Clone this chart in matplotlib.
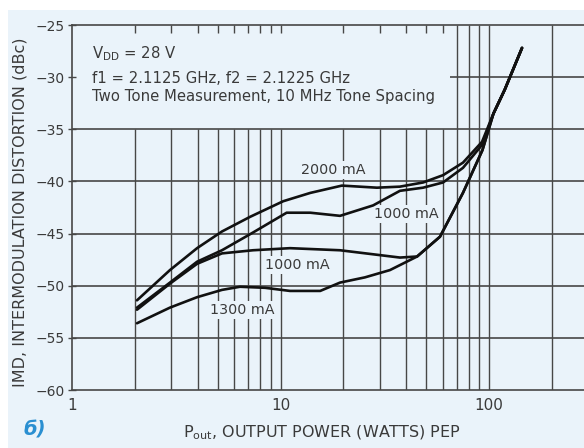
import matplotlib
matplotlib.use('Agg')
import matplotlib.pyplot as plt
from matplotlib.patches import Rectangle

# ---- data ----
curve_labels = ['2000 mA', '1000 mA', '1000 mA', '1300 mA']

pout_2000 = [2.05, 2.95, 3.98, 5.24, 7.14, 10.3, 13.9, 19.7, 29.0, 37.4, 48.3, 60.2, 75.0, 92.6, 105, 119, 144]
imd_2000 = [-51.4, -48.5, -46.4, -44.8, -43.4, -41.9, -41.1, -40.4, -40.6, -40.5, -40.1, -39.4, -38.2, -36.2, -33.5, -31.2, -27.2]

pout_1000a = [2.05, 2.95, 3.98, 5.24, 7.38, 10.7, 13.9, 19.3, 27.8, 37.4, 48.3, 60.2, 75.0, 92.6, 105, 119, 144]
imd_1000a = [-52.1, -49.7, -47.7, -46.6, -44.9, -43.0, -43.0, -43.3, -42.3, -40.9, -40.6, -40.1, -38.7, -36.5, -33.5, -31.2, -27.2]

pout_1000b = [2.05, 2.95, 3.98, 5.24, 7.38, 11.1, 19.3, 37.4, 45.2, 58.2, 75.0, 93.0, 105, 119, 144]
imd_1000b = [-52.3, -49.8, -47.9, -46.9, -46.6, -46.4, -46.6, -47.3, -47.2, -45.3, -41.1, -37.0, -33.5, -31.2, -27.2]

pout_1300 = [2.05, 2.95, 3.98, 5.24, 6.39, 8.43, 11.1, 15.5, 19.3, 25.4, 33.5, 45.2, 58.2, 75.0, 93.0, 105, 119, 144]
imd_1300 = [-53.6, -52.1, -51.1, -50.4, -50.1, -50.2, -50.5, -50.5, -49.7, -49.2, -48.5, -47.2, -45.3, -41.1, -37.0, -33.5, -31.2, -27.2]

label_x = [17.9, 40.0, 12.1, 6.54]
label_y = [-38.9, -43.1, -48.0, -52.3]

yticks = [-25, -30, -35, -40, -45, -50, -55, -60]
xticks = [1, 10, 100]
xtick_labels = ['1', '10', '100']
minor_short = [2, 3, 4, 5, 6, 7, 8, 9, 10, 20, 30, 40, 50, 60]
minor_full = [70, 80, 90, 100, 200]

notes = [r'V$_{\rm DD}$ = 28 V',
         'f1 = 2.1125 GHz, f2 = 2.1225 GHz',
         'Two Tone Measurement, 10 MHz Tone Spacing']
notes_y = [-28.2, -30.6, -32.3]

# ---- styling ----
bg = '#eaf3fa'
gc = '#474747'
tc = '#3a3a3a'
W, H = 584, 448

fig = plt.figure(figsize=(W / 100, H / 100), dpi=100, facecolor='white')
fig.patches.append(Rectangle((8 / W, 0), 1, 1 - 10 / H, transform=fig.transFigure,
                             facecolor=bg, edgecolor='none', zorder=-10))

left, right, top, bottom = 72, 588, 25, 390
ax = fig.add_axes([left / W, 1 - bottom / H, (right - left) / W, (bottom - top) / H])
ax.set_facecolor(bg)
ax.set_xscale('log')
ax.set_xlim(1, 10 ** ((right - left) / 208.5))
ax.set_ylim(-60, -25)

# grid
for x in minor_short:
    ax.vlines(x, -60, -35, color=gc, lw=1.0, zorder=1)
    ax.vlines(x, -25.8, -25, color=gc, lw=1.0, zorder=1)
for x in minor_full:
    ax.vlines(x, -60, -25, color=gc, lw=1.0, zorder=1)
for y in [-35, -40, -45, -50, -55]:
    ax.axhline(y, color=gc, lw=1.2, zorder=1)
ax.hlines(-30, 65, 400, color=gc, lw=1.2, zorder=1)

for s in ['left', 'bottom', 'top']:
    ax.spines[s].set_color(gc)
    ax.spines[s].set_linewidth(1.2)
ax.spines['right'].set_visible(False)

ax.set_yticks(yticks)
ax.set_yticklabels([('\u2212%d' % abs(v)) for v in yticks], fontsize=10, color=tc)
ax.tick_params(axis='y', direction='inout', length=6, width=1, color=gc, pad=2)
ax.set_xticks(xticks)
ax.set_xticklabels(xtick_labels, fontsize=11, color=tc)
ax.xaxis.set_minor_locator(matplotlib.ticker.NullLocator())
ax.tick_params(axis='x', length=0, pad=6)

# curves
for xs, ys in [(pout_2000, imd_2000), (pout_1000a, imd_1000a),
               (pout_1000b, imd_1000b), (pout_1300, imd_1300)]:
    ax.plot(xs, ys, color='#111111', lw=1.9, solid_joinstyle='round',
            solid_capstyle='round', zorder=3)

for lab, lx, ly in zip(curve_labels, label_x, label_y):
    ax.text(lx, ly, lab, fontsize=10.3, color=tc, ha='center', va='center', zorder=2,
            bbox=dict(boxstyle='square,pad=0.15', fc=bg, ec='none'))

for t, ny in zip(notes, notes_y):
    ax.text(20 / (right - left), ny, t, transform=ax.get_yaxis_transform(),
            fontsize=10.7, color=tc, ha='left', va='baseline', zorder=2)

fig.text(20 / W, 1 - 212 / H, 'IMD, INTERMODULATION DISTORTION (dBc)', rotation=90,
         ha='center', va='center', fontsize=11.5, color=tc)
fig.text(322 / W, 1 - 433 / H, r'P$_{\rm out}$, OUTPUT POWER (WATTS) PEP',
         ha='center', va='center', fontsize=11.5, color=tc)
fig.text(35 / W, 1 - 430 / H, 'б)', ha='center', va='center', fontsize=14,
         fontweight='bold', fontstyle='italic', color='#2a8fd1')

fig.savefig('out.png', dpi=100, facecolor='white')
